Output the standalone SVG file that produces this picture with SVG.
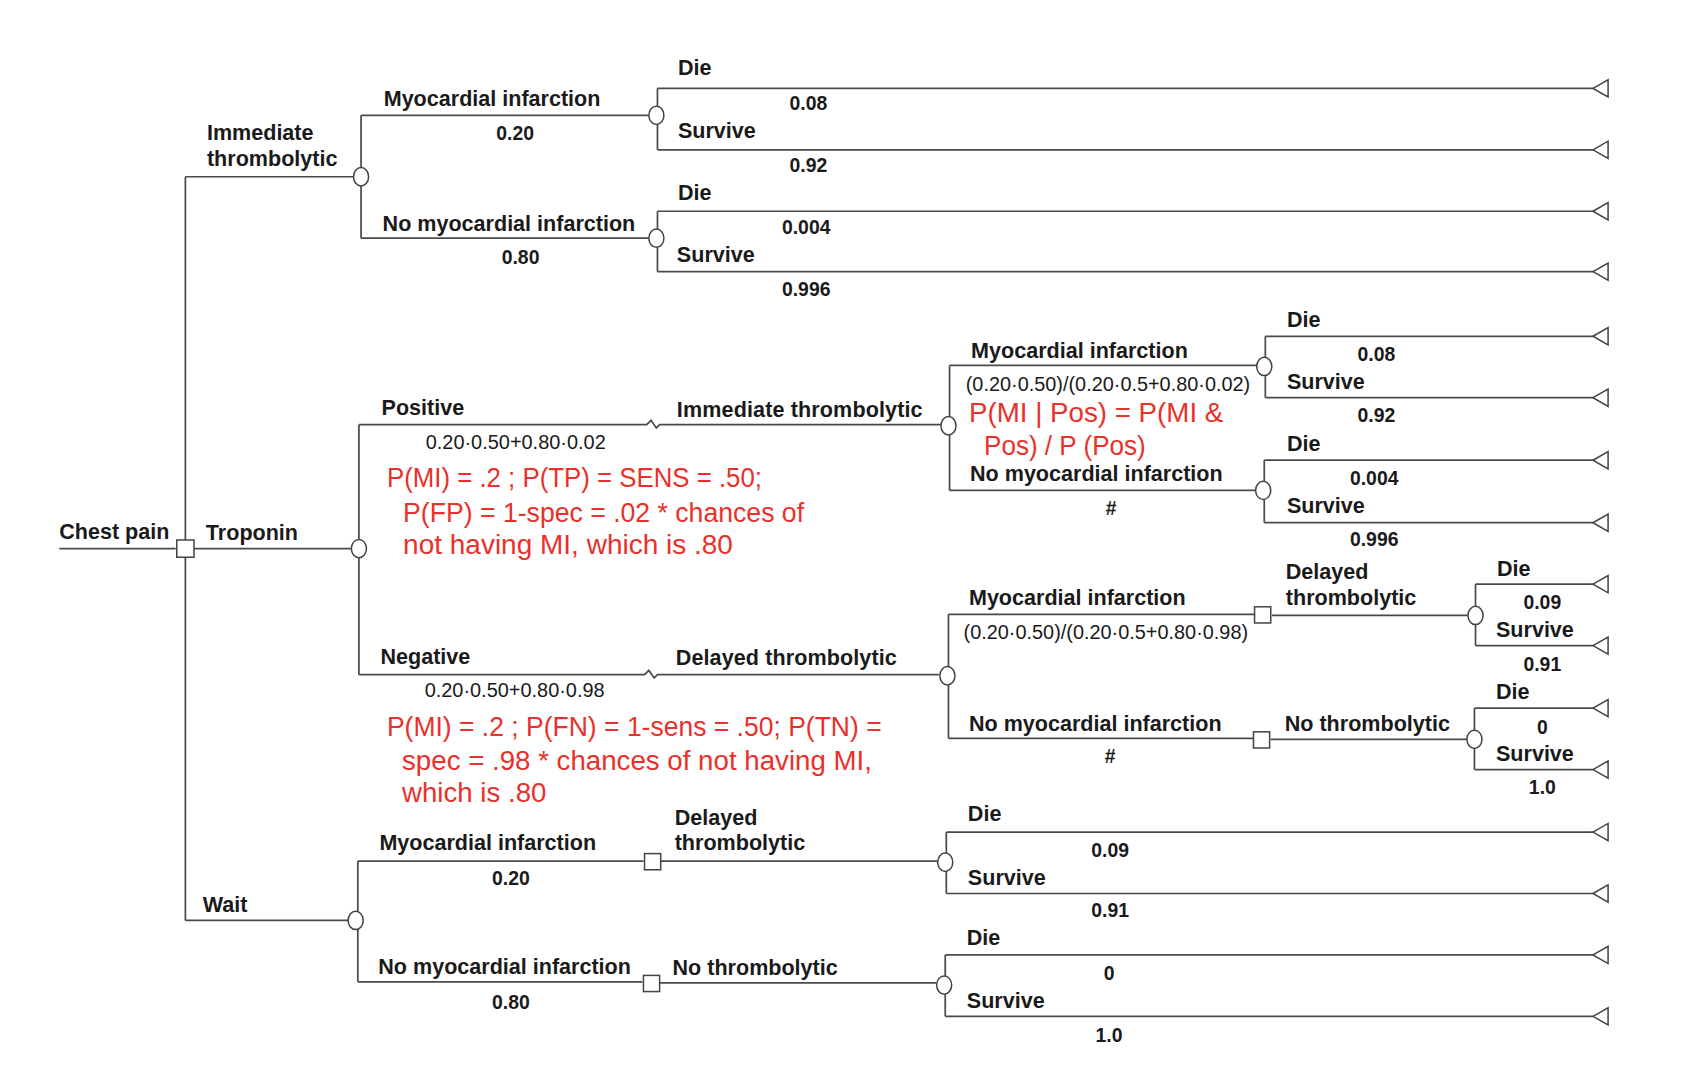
<svg xmlns="http://www.w3.org/2000/svg" width="1690" height="1086" viewBox="0 0 1690 1086">
<defs>
<style>
.ln{fill:none;stroke:#4a4a4a;stroke-width:1.6}
.nd{fill:#fff;stroke:#444;stroke-width:1.4}
.t{font-family:"Liberation Sans",Arial,sans-serif;font-size:20px;font-weight:bold;fill:#1a1a1a}
.n{font-family:"Liberation Sans",Arial,sans-serif;font-size:18px;font-weight:bold;fill:#1a1a1a;text-anchor:middle}
.f{font-family:"Liberation Sans",Arial,sans-serif;font-size:18px;fill:#1a1a1a}
.r{font-family:"Liberation Sans",Arial,sans-serif;font-size:26px;fill:#e8312a}
</style>
<path id="term" d="M0,0 L14,-8 L14,8 Z" class="nd"/>
</defs>
<rect width="1690" height="1086" fill="#fff"/>
<g transform="scale(1.0778)">
<g id="connectors">
<path class="ln" d="M55,509 H163"/>
<path class="ln" d="M172,164 V854"/>
<path class="ln" d="M172,164 H328"/>
<path class="ln" d="M179,509 H326"/>
<path class="ln" d="M172,854 H323"/>
<path class="ln" d="M335,107 V221"/>
<path class="ln" d="M335,107 H602"/>
<path class="ln" d="M335,221 H602"/>
<path class="ln" d="M610,82 V139"/>
<path class="ln" d="M610,82 H1478"/>
<path class="ln" d="M610,139 H1478"/>
<path class="ln" d="M610,196 V252"/>
<path class="ln" d="M610,196 H1478"/>
<path class="ln" d="M610,252 H1478"/>
<path class="ln" d="M333,394 V626"/>
<path class="ln" d="M333,394 H600 L604,390 L609,397 L612,394 H873"/>
<path class="ln" d="M333,626 H598 L602,622 L607,629 L610,626 H871"/>
<path class="ln" d="M881,339 V455"/>
<path class="ln" d="M881,339 H1166"/>
<path class="ln" d="M881,455 H1165"/>
<path class="ln" d="M1174,312 V369"/>
<path class="ln" d="M1174,312 H1478"/>
<path class="ln" d="M1174,369 H1478"/>
<path class="ln" d="M1173,427 V485"/>
<path class="ln" d="M1173,427 H1478"/>
<path class="ln" d="M1173,485 H1478"/>
<path class="ln" d="M880,570 V685"/>
<path class="ln" d="M880,570 H1164"/>
<path class="ln" d="M1180,571 H1362"/>
<path class="ln" d="M880,685 H1163"/>
<path class="ln" d="M1179,686 H1361"/>
<path class="ln" d="M1369,542 V599"/>
<path class="ln" d="M1369,542 H1478"/>
<path class="ln" d="M1369,599 H1478"/>
<path class="ln" d="M1368,657 V714"/>
<path class="ln" d="M1368,657 H1478"/>
<path class="ln" d="M1368,714 H1478"/>
<path class="ln" d="M332,799 V911"/>
<path class="ln" d="M332,799 H597"/>
<path class="ln" d="M613,799 H870"/>
<path class="ln" d="M332,911 H596"/>
<path class="ln" d="M612,912 H869"/>
<path class="ln" d="M878,772 V829"/>
<path class="ln" d="M878,772 H1478"/>
<path class="ln" d="M878,829 H1478"/>
<path class="ln" d="M877,886 V943"/>
<path class="ln" d="M877,886 H1478"/>
<path class="ln" d="M877,943 H1478"/>
</g>

<g id="terminals">
<use href="#term" x="1478" y="82"/>
<use href="#term" x="1478" y="139"/>
<use href="#term" x="1478" y="196"/>
<use href="#term" x="1478" y="252"/>
<use href="#term" x="1478" y="312"/>
<use href="#term" x="1478" y="369"/>
<use href="#term" x="1478" y="427"/>
<use href="#term" x="1478" y="485"/>
<use href="#term" x="1478" y="542"/>
<use href="#term" x="1478" y="599"/>
<use href="#term" x="1478" y="657"/>
<use href="#term" x="1478" y="714"/>
<use href="#term" x="1478" y="772"/>
<use href="#term" x="1478" y="829"/>
<use href="#term" x="1478" y="886"/>
<use href="#term" x="1478" y="943"/>
</g>

<g id="root">
<rect class="nd" x="164" y="501" width="16" height="16"/>
<text class="t" x="55" y="500">Chest pain</text>
</g>

<g id="immediate">
<text class="t" x="192" y="130">Immediate</text>
<text class="t" x="192" y="154">thrombolytic</text>
<ellipse class="nd" cx="335" cy="164" rx="7" ry="8.5"/>
</g>
<g id="imm-mi">
<text class="t" x="356" y="98">Myocardial infarction</text>
<text class="n" x="478" y="130">0.20</text>
<ellipse class="nd" cx="609" cy="107" rx="7" ry="8.5"/>
<text class="t" x="629" y="70">Die</text>
<text class="n" x="750" y="102">0.08</text>
<text class="t" x="629" y="128">Survive</text>
<text class="n" x="750" y="160">0.92</text>
</g>
<g id="imm-nomi">
<text class="t" x="355" y="214">No myocardial infarction</text>
<text class="n" x="483" y="245">0.80</text>
<ellipse class="nd" cx="609" cy="221" rx="7" ry="8.5"/>
<text class="t" x="629" y="186">Die</text>
<text class="n" x="748" y="217">0.004</text>
<text class="t" x="628" y="243">Survive</text>
<text class="n" x="748" y="275">0.996</text>
</g>

<g id="troponin">
<text class="t" x="191" y="501">Troponin</text>
<ellipse class="nd" cx="333" cy="509" rx="7" ry="8.5"/>
</g>
<g id="positive">
<text class="t" x="354" y="385">Positive</text>
<text class="f" x="395" y="417" textLength="167" lengthAdjust="spacingAndGlyphs">0.20·0.50+0.80·0.02</text>
<text class="t" x="628" y="387" textLength="228">Immediate thrombolytic</text>
<text class="r" x="359" y="452" textLength="348" lengthAdjust="spacingAndGlyphs">P(MI) = .2 ; P(TP) = SENS = .50;</text>
<text class="r" x="374" y="484" textLength="372" lengthAdjust="spacingAndGlyphs">P(FP) = 1-spec = .02 * chances of</text>
<text class="r" x="374" y="514" textLength="306" lengthAdjust="spacingAndGlyphs">not having MI, which is .80</text>
<ellipse class="nd" cx="880" cy="395" rx="7" ry="8.5"/>
</g>
<g id="pos-mi">
<text class="t" x="901" y="332">Myocardial infarction</text>
<text class="f" x="896" y="363" textLength="264" lengthAdjust="spacingAndGlyphs">(0.20·0.50)/(0.20·0.5+0.80·0.02)</text>
<text class="r" x="899" y="392" textLength="236" lengthAdjust="spacingAndGlyphs">P(MI | Pos) = P(MI &amp;</text>
<text class="r" x="913" y="422" textLength="150" lengthAdjust="spacingAndGlyphs">Pos) / P (Pos)</text>
<ellipse class="nd" cx="1173" cy="340" rx="7" ry="8.5"/>
<text class="t" x="1194" y="303">Die</text>
<text class="n" x="1277" y="335">0.08</text>
<text class="t" x="1194" y="361">Survive</text>
<text class="n" x="1277" y="392">0.92</text>
</g>
<g id="pos-nomi">
<text class="t" x="900" y="446">No myocardial infarction</text>
<text class="n" x="1031" y="478">#</text>
<ellipse class="nd" cx="1172" cy="455" rx="7" ry="8.5"/>
<text class="t" x="1194" y="418">Die</text>
<text class="n" x="1275" y="450">0.004</text>
<text class="t" x="1194" y="476">Survive</text>
<text class="n" x="1275" y="507">0.996</text>
</g>
<g id="negative">
<text class="t" x="353" y="616">Negative</text>
<text class="f" x="394" y="647" textLength="167" lengthAdjust="spacingAndGlyphs">0.20·0.50+0.80·0.98</text>
<text class="t" x="627" y="617" textLength="205">Delayed thrombolytic</text>
<text class="r" x="359" y="683" textLength="459" lengthAdjust="spacingAndGlyphs">P(MI) = .2 ; P(FN) = 1-sens = .50; P(TN) =</text>
<text class="r" x="373" y="714" textLength="436" lengthAdjust="spacingAndGlyphs">spec = .98 * chances of not having MI,</text>
<text class="r" x="373" y="744" textLength="134" lengthAdjust="spacingAndGlyphs">which is .80</text>
<ellipse class="nd" cx="879" cy="627" rx="7" ry="8.5"/>
</g>
<g id="neg-mi">
<text class="t" x="899" y="561">Myocardial infarction</text>
<text class="f" x="894" y="593" textLength="264" lengthAdjust="spacingAndGlyphs">(0.20·0.50)/(0.20·0.5+0.80·0.98)</text>
<rect class="nd" x="1164" y="563" width="15" height="15"/>
<text class="t" x="1193" y="537">Delayed</text>
<text class="t" x="1193" y="561">thrombolytic</text>
<ellipse class="nd" cx="1369" cy="571" rx="7" ry="8.5"/>
<text class="t" x="1389" y="534">Die</text>
<text class="n" x="1431" y="565">0.09</text>
<text class="t" x="1388" y="591">Survive</text>
<text class="n" x="1431" y="623">0.91</text>
</g>
<g id="neg-nomi">
<text class="t" x="899" y="678">No myocardial infarction</text>
<text class="n" x="1030" y="708">#</text>
<rect class="nd" x="1163" y="679" width="15" height="15"/>
<text class="t" x="1192" y="678">No thrombolytic</text>
<ellipse class="nd" cx="1368" cy="686" rx="7" ry="8.5"/>
<text class="t" x="1388" y="649">Die</text>
<text class="n" x="1431" y="681">0</text>
<text class="t" x="1388" y="706">Survive</text>
<text class="n" x="1431" y="737">1.0</text>
</g>

<g id="wait">
<text class="t" x="188" y="846">Wait</text>
<ellipse class="nd" cx="330" cy="854" rx="7" ry="8.5"/>
</g>
<g id="wait-mi">
<text class="t" x="352" y="789">Myocardial infarction</text>
<text class="n" x="474" y="821">0.20</text>
<rect class="nd" x="598" y="792" width="15" height="15"/>
<text class="t" x="626" y="765">Delayed</text>
<text class="t" x="626" y="789">thrombolytic</text>
<ellipse class="nd" cx="877" cy="800" rx="7" ry="8.5"/>
<text class="t" x="898" y="762">Die</text>
<text class="n" x="1030" y="795">0.09</text>
<text class="t" x="898" y="821">Survive</text>
<text class="n" x="1030" y="851">0.91</text>
</g>
<g id="wait-nomi">
<text class="t" x="351" y="904">No myocardial infarction</text>
<text class="n" x="474" y="936">0.80</text>
<rect class="nd" x="597" y="905" width="15" height="15"/>
<text class="t" x="624" y="905">No thrombolytic</text>
<ellipse class="nd" cx="876" cy="914" rx="7" ry="8.5"/>
<text class="t" x="897" y="877">Die</text>
<text class="n" x="1029" y="909">0</text>
<text class="t" x="897" y="935">Survive</text>
<text class="n" x="1029" y="967">1.0</text>
</g>
</g>
</svg>
